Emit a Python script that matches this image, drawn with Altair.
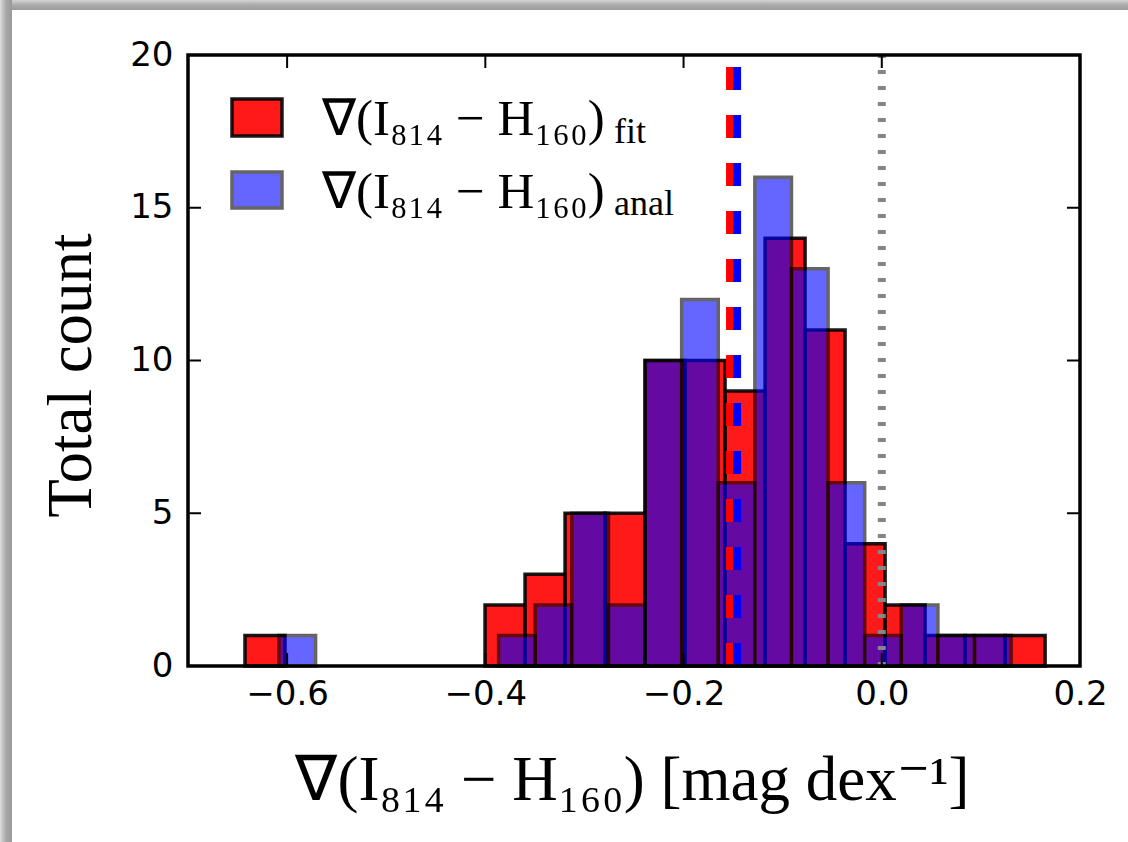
import altair as alt
import pandas as pd

# Axis ranges and tick positions
X_MIN, X_MAX = -0.7, 0.2
Y_MIN, Y_MAX = 0, 20
x_ticks = [-0.6, -0.4, -0.2, 0.0, 0.2]
y_ticks = [0, 5, 10, 15, 20]

# Histogram of the fitted colour gradients (20 bins)
fit_lo, fit_hi = -0.6425, 0.1648
fit_counts = [1, 0, 0, 0, 0, 0, 2, 3, 5, 5, 10, 10, 9, 14, 11, 4, 2, 1, 1, 1]

# Histogram of the analytic colour gradients (20 bins)
anal_lo, anal_hi = -0.6082, 0.1305
anal_counts = [1, 0, 0, 0, 0, 0, 1, 2, 5, 2, 10, 12, 6, 16, 13, 6, 1, 2, 1, 1]

# Medians of the two distributions and the zero-gradient reference
fit_median = -0.1536
anal_median = -0.146
zero_gradient = 0.0

W, H = 892, 611


def bins(lo, hi, counts):
    n = len(counts)
    step = (hi - lo) / n
    rows = []
    for i, c in enumerate(counts):
        if c > 0:
            rows.append({"x0": lo + i * step, "x1": lo + (i + 1) * step, "count": c, "base": 0})
    return pd.DataFrame(rows)


fit_df = bins(fit_lo, fit_hi, fit_counts)
anal_df = bins(anal_lo, anal_hi, anal_counts)

xs = alt.Scale(domain=[X_MIN, X_MAX], nice=False, zero=False)
ys = alt.Scale(domain=[Y_MIN, Y_MAX], nice=False)

SERIF = "Liberation Serif"
SANS = "DejaVu Sans"

x_axis = alt.Axis(
    values=x_ticks, format=".1f", labelFont=SANS, labelFontSize=34, labelColor="black",
    labelPadding=11, tickSize=0, domain=False, grid=False, labelFlush=False,
    title="∇(I₈₁₄ − H₁₆₀) [mag dex⁻¹]", titleFont=SERIF, titleFontSize=63,
    titleFontWeight="normal", titleColor="black", titleBaseline="alphabetic",
    titleY=133, titleX=444, titleAlign="center",
)
y_axis = alt.Axis(
    values=y_ticks, labelFont=SANS, labelFontSize=34, labelColor="black",
    labelPadding=15, tickSize=0, domain=False, grid=False, labelFlush=False,
    title="Total count", titleFont=SERIF, titleFontSize=63, titleFontWeight="normal",
    titleColor="black", titleAngle=270, titleBaseline="alphabetic", titleAlign="center",
    titleX=-98, titleY=320,
)


def X(field):
    return alt.X(field, scale=xs, axis=x_axis)


def Y(field):
    return alt.Y(field, scale=ys, axis=y_axis)


one = pd.DataFrame({"k": [0]})

# Soft grey frame along the top and left edges of the figure
shadow_left = alt.Chart(one).mark_rect(
    fill=alt.LinearGradient(
        gradient="linear", x1=0, x2=1, y1=0, y2=0,
        stops=[alt.GradientStop(color="#dcdcdc", offset=0),
               alt.GradientStop(color="#a8a8a8", offset=0.5),
               alt.GradientStop(color="#999999", offset=1)],
    )
).encode(x=alt.value(-188), x2=alt.value(-176), y=alt.value(-55), y2=alt.value(787))

shadow_top = alt.Chart(one).mark_rect(
    fill=alt.LinearGradient(
        gradient="linear", x1=0, x2=0, y1=0, y2=1,
        stops=[alt.GradientStop(color="#d4d4d4", offset=0),
               alt.GradientStop(color="#aaaaaa", offset=0.5),
               alt.GradientStop(color="#9c9c9c", offset=1)],
    )
).encode(x=alt.value(-176), x2=alt.value(940), y=alt.value(-55), y2=alt.value(-45))

fit_bars = alt.Chart(fit_df).mark_rect(
    fill="#ff0000", fillOpacity=0.9, stroke="black", strokeOpacity=0.9, strokeWidth=3.5
).encode(x=X("x0:Q"), x2="x1:Q", y=Y("count:Q"), y2="base:Q")

anal_bars = alt.Chart(anal_df).mark_rect(
    fill="#0000ff", stroke="black", opacity=0.6, strokeWidth=3.5
).encode(x=X("x0:Q"), x2="x1:Q", y=Y("count:Q"), y2="base:Q")

# Vertical reference lines, drawn bottom-to-top so the dash pattern starts at the x-axis
fit_line = alt.Chart(pd.DataFrame({"v": [fit_median]})).mark_rule(
    color="#ff0000", strokeWidth=7, strokeDash=[23, 25]
).encode(x=X("v:Q"), y=alt.value(H), y2=alt.value(0))
anal_line = alt.Chart(pd.DataFrame({"v": [anal_median]})).mark_rule(
    color="#0000ff", strokeWidth=8, strokeDash=[23, 25]
).encode(x=X("v:Q"), y=alt.value(H), y2=alt.value(0))
zero_line = alt.Chart(pd.DataFrame({"v": [zero_gradient]})).mark_rule(
    color="#858585", strokeWidth=8, strokeDash=[4, 12]
).encode(x=X("v:Q"), y=alt.value(H), y2=alt.value(0))

# Inward-pointing ticks on all four sides
xt = pd.DataFrame({"v": x_ticks})
yt = pd.DataFrame({"v": y_ticks})
TL = 13
tick_style = dict(color="black", strokeWidth=2)
ticks_bottom = alt.Chart(xt).mark_rule(**tick_style).encode(
    x=X("v:Q"), y=alt.value(H), y2=alt.value(H - TL))
ticks_top = alt.Chart(xt).mark_rule(**tick_style).encode(
    x=X("v:Q"), y=alt.value(0), y2=alt.value(TL))
ticks_left = alt.Chart(yt).mark_rule(**tick_style).encode(
    y=Y("v:Q"), x=alt.value(0), x2=alt.value(TL))
ticks_right = alt.Chart(yt).mark_rule(**tick_style).encode(
    y=Y("v:Q"), x=alt.value(W), x2=alt.value(W - TL))

frame = alt.Chart(one).mark_rect(filled=False, stroke="black", strokeWidth=3.5).encode(
    x=alt.value(0), x2=alt.value(W), y=alt.value(0), y2=alt.value(H))

# Legend
sw_fit = alt.Chart(one).mark_rect(
    fill="#ff0000", fillOpacity=0.9, stroke="black", strokeOpacity=0.9, strokeWidth=3.5
).encode(x=alt.value(44), x2=alt.value(94), y=alt.value(44), y2=alt.value(81))
sw_anal = alt.Chart(one).mark_rect(
    fill="#0000ff", stroke="black", opacity=0.6, strokeWidth=3.5
).encode(x=alt.value(44), x2=alt.value(94), y=alt.value(117), y2=alt.value(153))

legend_main = "∇(I₈₁₄ − H₁₆₀)"
lab_style = dict(font=SERIF, fontSize=51, align="left", baseline="alphabetic", color="black")
sub_style = dict(font=SERIF, fontSize=36, align="left", baseline="alphabetic", color="black")
lab_fit = alt.Chart(one).mark_text(text=legend_main, **lab_style).encode(
    x=alt.value(134), y=alt.value(80))
sub_fit = alt.Chart(one).mark_text(text="fit", **sub_style).encode(
    x=alt.value(426), y=alt.value(88))
lab_anal = alt.Chart(one).mark_text(text=legend_main, **lab_style).encode(
    x=alt.value(134), y=alt.value(153))
sub_anal = alt.Chart(one).mark_text(text="anal", **sub_style).encode(
    x=alt.value(426), y=alt.value(160))

chart = alt.layer(
    fit_bars, anal_bars, zero_line, fit_line, anal_line,
    ticks_bottom, ticks_top, ticks_left, ticks_right, frame,
    sw_fit, sw_anal, lab_fit, sub_fit, lab_anal, sub_anal,
    shadow_left, shadow_top,
).properties(
    width=W, height=H,
    autosize=alt.AutoSizeParams(type="none"),
    padding={"left": 188, "top": 55, "right": 48, "bottom": 176},
    background="white",
).configure_view(stroke=None)

chart.save("out.html", embed_options={"renderer": "svg", "actions": False})
